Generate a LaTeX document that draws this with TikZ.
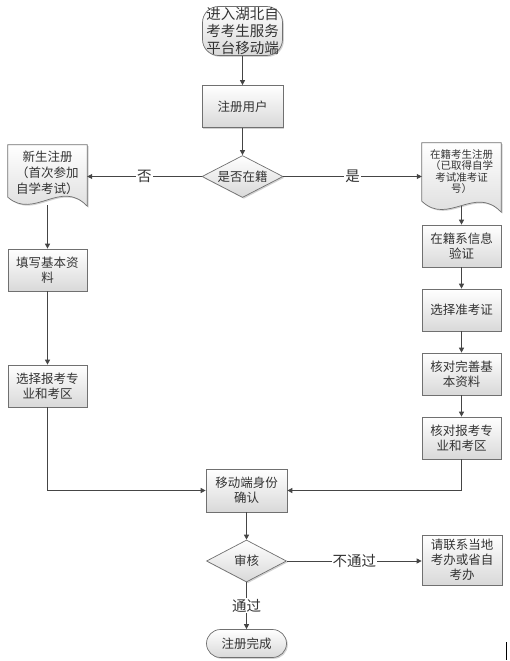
\documentclass[tikz,border=0pt]{standalone}
\usepackage{fontspec}
\newfontfamily\cjk{Noto Sans CJK SC}
\usetikzlibrary{arrows.meta,shapes.geometric,shadows}
\pgfdeclarelayer{background}
\pgfsetlayers{background,main}
\definecolor{edgegray}{HTML}{707070}
\definecolor{linegray}{HTML}{454545}
\newcommand{\docbody}[1]{(#1.north west) -- (#1.north east) -- ([yshift=-6pt]#1.south east)
  .. controls ([xshift=-26pt,yshift=22pt]#1.south east) and ([xshift=26pt,yshift=-20pt]#1.south west) .. ([yshift=3pt]#1.south west) -- cycle}
\begin{document}
\begin{tikzpicture}[x=1pt,y=-1pt,
  shade/.style={draw=edgegray, line width=0.7pt, top color=white, bottom color=gray!30,
    drop shadow={shadow xshift=1.3pt,shadow yshift=-1.3pt,fill=gray!70}},
  box/.style={shade, rectangle, font=\cjk\fontsize{12.5}{15}\selectfont, text=black!80,
    align=center, minimum width=79pt, minimum height=42pt, inner sep=0pt},
  term/.style={box, rounded corners=14pt, minimum width=80pt},
  decision/.style={box, diamond, aspect=2, minimum width=81pt},
  doc/.style={font=\cjk\fontsize{12.5}{16}\selectfont, text=black!80, align=center,
    minimum width=79pt, inner sep=0pt},
  flow/.style={draw=linegray, line width=0.8pt, -{Triangle[length=5pt,width=5pt]}},
  lbl/.style={fill=white, font=\cjk\fontsize{14.5}{17}\selectfont, text=black!80, inner sep=1pt}]
\useasboundingbox (0,0) rectangle (509,661);
% main column
\node[term, rounded corners=16pt, minimum height=49pt, font=\cjk\fontsize{14.5}{17}\selectfont] (start) at (242.5,31) {进入湖北自\\考考生服务\\平台移动端};
\node[box, minimum width=81pt] (reg) at (242.5,106.5) {注册用户};
\node[decision] (inreg) at (242.5,176.5) {是否在籍};
% two kinds of students
\node[doc, minimum height=55pt] (newdoc) at (47.5,172.5) {新生注册\\（首次参加\\自学考试）};
\node[doc, minimum height=57pt, font=\cjk\fontsize{10.5}{11.5}\selectfont] (olddoc) at (461.5,171.5) {在籍考生注册\\（已取得自学\\考试准考证\\号）};
\begin{pgfonlayer}{background}
\path[shade] \docbody{newdoc};
\path[shade] (olddoc.north west) -- (olddoc.north east) -- ([yshift=-12pt]olddoc.south east)
  .. controls ([xshift=-26pt,yshift=16pt]olddoc.south east) and ([xshift=26pt,yshift=-26pt]olddoc.south west) .. ([yshift=-1pt]olddoc.south west) -- cycle;
\end{pgfonlayer}
\node[box] (fill) at (47.5,270) {填写基本资\\料};
\node[box] (majorL) at (47.5,386) {选择报考专\\业和考区};
\foreach \n/\y/\t in {verify/246/在籍系信息\\验证, ticket/310/选择准考证, info/374/核对完善基\\本资料, majorR/438/核对报考专\\业和考区} {
\node[box] (\n) at (461.5,\y) {\t};}
% common end
\node[box, minimum width=81pt, minimum height=43pt] (confirm) at (246.5,490.5) {移动端身份\\确认};
\node[decision, minimum width=80pt] (audit) at (246.5,561) {审核};
\node[box, minimum width=80pt, minimum height=50pt] (contact) at (462,560) {请联系当地\\考办或省自\\考办};
\node[term, minimum height=28pt] (done) at (246.5,643.5) {注册完成};
% connectors
\draw[flow] (start) -- (reg);
\draw[flow] (reg) -- (inreg);
\draw[flow] (inreg.west) -- node[lbl] {否} (inreg.west -| newdoc.east);
\draw[flow] (inreg.east) -- node[lbl] {是} (inreg.east -| olddoc.west);
\draw[flow] ([yshift=-5pt]newdoc.south) -- (fill);
\draw[flow] ([yshift=-6pt]olddoc.south) -- (verify);
\draw[flow] (fill) -- (majorL);
\foreach \a/\b in {verify/ticket, ticket/info, info/majorR} {
\draw[flow] (\a) -- (\b);}
\draw[flow] (majorL.south) |- (confirm.west);
\draw[flow] (majorR.south) |- (confirm.east);
\draw[flow] (confirm) -- (audit);
\draw[flow] (audit.east) -- node[lbl] {不通过} (contact.west |- audit.east);
\draw[flow] (audit.south) -- node[lbl] {通过} (done.north);
\draw[line width=1.5pt] (506.5,642) -- (506.5,660);
\end{tikzpicture}
\end{document}
